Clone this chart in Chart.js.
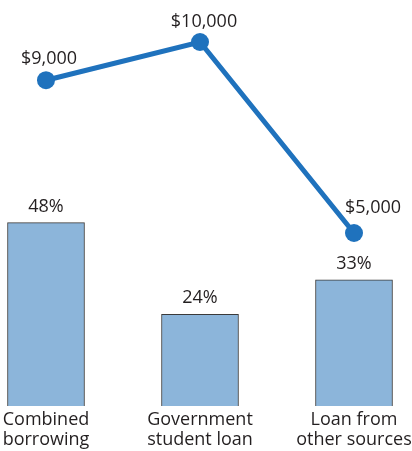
<!DOCTYPE html>
<html>
<head>
<meta charset="utf-8">
<script src="https://cdn.jsdelivr.net/npm/chart.js@4/dist/chart.umd.min.js"></script>
<style>
  html, body { margin: 0; padding: 0; background: #ffffff; }
  #wrap { width: 412px; height: 451px; position: relative; }
</style>
</head>
<body>
<div id="wrap"><canvas id="c"></canvas></div>
<script>
// Categories of borrowing
const categories = [
  ['Combined', 'borrowing'],
  ['Government', 'student loan'],
  ['Loan from', 'other sources']
];
// Share of students using each kind of loan (%)
const sharePercent = [48, 24, 33];
// Typical amount borrowed ($)
const amountDollars = [9000, 10000, 5000];

const textColor = '#231f20';
const fontFamily = '"Open Sans", Lato, sans-serif';

// Writes each value above its bar or point
const valueLabels = {
  id: 'valueLabels',
  afterDatasetsDraw(chart, args, opts) {
    const ctx = chart.ctx;
    ctx.save();
    ctx.fillStyle = textColor;
    ctx.font = '18px ' + fontFamily;
    ctx.textAlign = 'center';
    ctx.textBaseline = 'alphabetic';
    chart.data.datasets.forEach((ds, di) => {
      const meta = chart.getDatasetMeta(di);
      meta.data.forEach((el, i) => {
        const v = ds.data[i];
        if (ds.type === 'bar') {
          ctx.fillText(v + '%', el.x, el.y - 11);
        } else {
          const dx = opts.lineDx[i], dy = opts.lineDy[i];
          ctx.fillText('$' + v.toLocaleString('en-US'), el.x + dx, el.y - dy);
        }
      });
    });
    ctx.restore();
  }
};

new Chart(document.getElementById('c'), {
  data: {
    labels: categories,
    datasets: [
      {
        type: 'line',
        data: amountDollars,
        yAxisID: 'yAmount',
        borderColor: '#1f72bd',
        backgroundColor: '#1f72bd',
        borderWidth: 5,
        pointRadius: 9,
        pointHoverRadius: 9,
        pointBorderWidth: 0,
        tension: 0,
        clip: false,
        order: 0
      },
      {
        type: 'bar',
        data: sharePercent,
        yAxisID: 'yShare',
        backgroundColor: '#8cb5da',
        borderColor: '#3a3a3a',
        borderWidth: 1,
        barThickness: 77,
        clip: false,
        order: 1
      }
    ]
  },
  options: {
    responsive: true,
    maintainAspectRatio: false,
    animation: false,
    events: [],
    layout: { padding: { left: 46, right: 58, top: 0, bottom: 1 } },
    plugins: {
      legend: { display: false },
      tooltip: { enabled: false },
      valueLabels: { lineDx: [3, 4, 19], lineDy: [16, 15, 20] }
    },
    scales: {
      x: {
        type: 'category',
        offset: false,
        grid: { display: false, drawTicks: false },
        border: { display: false },
        ticks: {
          color: textColor,
          padding: 4,
          maxRotation: 0,
          autoSkip: false,
          font: { family: fontFamily, size: 18, lineHeight: 1.1 }
        },
        afterFit(scale) {
          // fixed band for the two-line category names; the outer
          // labels may hang past the plot edges
          scale.height = 44;
          scale.paddingLeft = 0;
          scale.paddingRight = 0;
        }
      },
      yShare: {
        type: 'linear',
        display: false,
        min: 0,
        max: 103.9
      },
      yAmount: {
        type: 'linear',
        display: false,
        min: 471,
        max: 10864
      }
    }
  },
  plugins: [valueLabels]
});
</script>
</body>
</html>
